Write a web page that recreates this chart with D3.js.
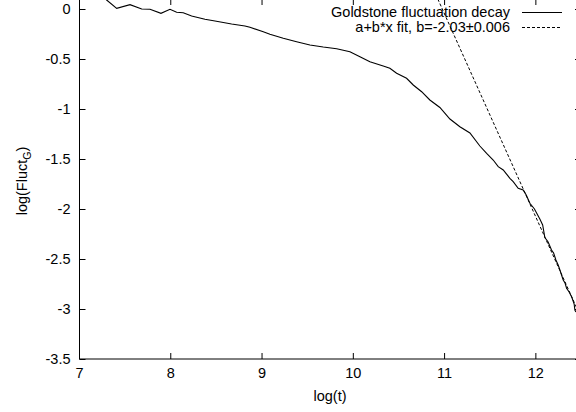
<!DOCTYPE html>
<html>
<head>
<meta charset="utf-8">
<script src="https://cdn.jsdelivr.net/npm/d3@7"></script>
<style>
  body { margin: 0; background: #fff; }
  text { font-family: "Liberation Sans", Arial, sans-serif; font-size: 14.5px; fill: #000; }
</style>
</head>
<body>
<svg class="plot"></svg>
<script>
// log(t) values of the measured decay
const logT = [7.19, 7.303, 7.413, 7.559, 7.687, 7.778, 7.898, 7.997, 8.070, 8.142, 8.234, 8.380,
              8.490, 8.672, 8.818, 8.873, 9.019, 9.092, 9.238, 9.384, 9.530, 9.676, 9.823, 9.968,
              10.078, 10.187, 10.333, 10.406, 10.480, 10.589, 10.662, 10.754, 10.844, 10.954, 11.064,
              11.173, 11.283, 11.392, 11.466, 11.538, 11.593, 11.648, 11.721, 11.757, 11.812, 11.866,
              11.90, 11.940, 11.99, 12.049, 12.08, 12.104, 12.14, 12.177, 12.20, 12.225, 12.25, 12.269,
              12.305, 12.325, 12.342, 12.37, 12.397, 12.41, 12.425, 12.433, 12.444];
// log(Fluct_G) values
const logFluct = [0.18, 0.09, 0.007, 0.043, 0.0, -0.003, -0.043, -0.003, -0.033, -0.037, -0.07, -0.103,
                  -0.12, -0.15, -0.17, -0.183, -0.227, -0.253, -0.293, -0.327, -0.36, -0.38, -0.397, -0.427,
                  -0.477, -0.527, -0.57, -0.593, -0.643, -0.693, -0.76, -0.827, -0.91, -0.985, -1.10,
                  -1.177, -1.24, -1.37, -1.443, -1.51, -1.577, -1.61, -1.693, -1.727, -1.793, -1.81,
                  -1.86, -1.943, -2.00, -2.10, -2.16, -2.285, -2.33, -2.41, -2.44, -2.51, -2.56, -2.61,
                  -2.71, -2.74, -2.793, -2.83, -2.877, -2.91, -2.95, -3.01, -3.03];

// fit parameters a + b*x
const fitA = 22.29;
const fitB = -2.03;

const xTicks = [7, 8, 9, 10, 11, 12];
const yTicks = [0, -0.5, -1, -1.5, -2, -2.5, -3, -3.5];

const legendLabels = ["Goldstone fluctuation decay", "a+b*x fit, b=-2.03\u00b10.006"];

const width = 576, height = 412;

let x = d3.scaleLinear().domain([7, 12.5]).range([79, 581]);
let y = d3.scaleLinear().domain([-3.5, 0.1]).range([359, -1]);

let svg = d3.select(".plot")
            .attr("width", width)
            .attr("height", height);

svg.append("clipPath")
   .attr("id", "clip")
   .append("rect")
   .attr("x", x(7))
   .attr("y", y(0.1))
   .attr("width", x(12.5) - x(7))
   .attr("height", y(-3.5) - y(0.1));

// Axes (ticks inside, mirrored on top and right)
let xAxisBottom = d3.axisBottom(x).tickValues(xTicks).tickSize(-6).tickPadding(9)
                    .tickFormat((d) => String(d));
let yAxisLeft = d3.axisLeft(y).tickValues(yTicks).tickSize(-6).tickPadding(9)
                  .tickFormat((d) => String(d));

let gx = svg.append("g")
            .attr("transform", "translate(0," + y(-3.5) + ")")
            .call(xAxisBottom);
gx.select(".domain").remove();
gx.selectAll("line").attr("stroke", "#000");

let gy = svg.append("g")
            .attr("transform", "translate(" + (x(7) + 0.5) + ",0)")
            .call(yAxisLeft);
gy.select(".domain").remove();
gy.selectAll("line").attr("stroke", "#000");

svg.selectAll(".tick text")
   .attr("font-family", "Liberation Sans, Arial, sans-serif")
   .attr("font-size", 14.5)
   .attr("fill", "#000");

// Mirrored ticks
svg.append("g").selectAll("line")
   .data(xTicks.slice(1))
   .enter().append("line")
   .attr("x1", (d) => x(d) + 0.5)
   .attr("x2", (d) => x(d) + 0.5)
   .attr("y1", y(0.1))
   .attr("y2", y(0.1) + 6)
   .attr("stroke", "#000");

svg.append("g").selectAll("line")
   .data(yTicks)
   .enter().append("line")
   .attr("x1", x(12.5))
   .attr("x2", x(12.5) - 6)
   .attr("y1", (d) => y(d) + 0.5)
   .attr("y2", (d) => y(d) + 0.5)
   .attr("stroke", "#000");

// Border
svg.append("line")
   .attr("x1", x(7) + 0.5).attr("x2", x(7) + 0.5)
   .attr("y1", y(0.1)).attr("y2", y(-3.5))
   .attr("stroke", "#000");
svg.append("line")
   .attr("x1", x(7)).attr("x2", x(12.5))
   .attr("y1", y(-3.5)).attr("y2", y(-3.5))
   .attr("stroke", "#000");

// Labels
svg.append("text")
   .attr("x", 330)
   .attr("y", 401)
   .attr("text-anchor", "middle")
   .text("log(t)");

let yLabel = svg.append("text")
                .attr("transform", "translate(27,181) rotate(-90)")
                .attr("text-anchor", "middle");
yLabel.append("tspan").text("log(Fluct");
yLabel.append("tspan").attr("dy", 4).attr("font-size", 10.5).text("G");
yLabel.append("tspan").attr("dy", -4).text(")");

let plot = svg.append("g").attr("clip-path", "url(#clip)");

let line = d3.line()
             .x((d) => x(d[0]))
             .y((d) => y(d[1]));

plot.append("path")
    .datum(d3.zip(logT, logFluct))
    .attr("fill", "none")
    .attr("stroke", "#000")
    .attr("stroke-width", 1.1)
    .attr("d", line);

plot.append("path")
    .datum([[7, fitA + fitB * 7], [12.5, fitA + fitB * 12.5]])
    .attr("fill", "none")
    .attr("stroke", "#000")
    .attr("stroke-width", 1)
    .attr("stroke-dasharray", "3,2")
    .attr("d", line);

// Legend
let legend = svg.append("g");
legendLabels.forEach((label, i) => {
  let ly = 12 + i * 15;
  legend.append("text")
        .attr("x", 510)
        .attr("y", ly + 5)
        .attr("text-anchor", "end")
        .text(label);
  legend.append("line")
        .attr("x1", 522)
        .attr("x2", 562)
        .attr("y1", ly + 0.5)
        .attr("y2", ly + 0.5)
        .attr("stroke", "#000")
        .attr("stroke-dasharray", i === 1 ? "3,2" : null);
});
</script>
</body>
</html>
